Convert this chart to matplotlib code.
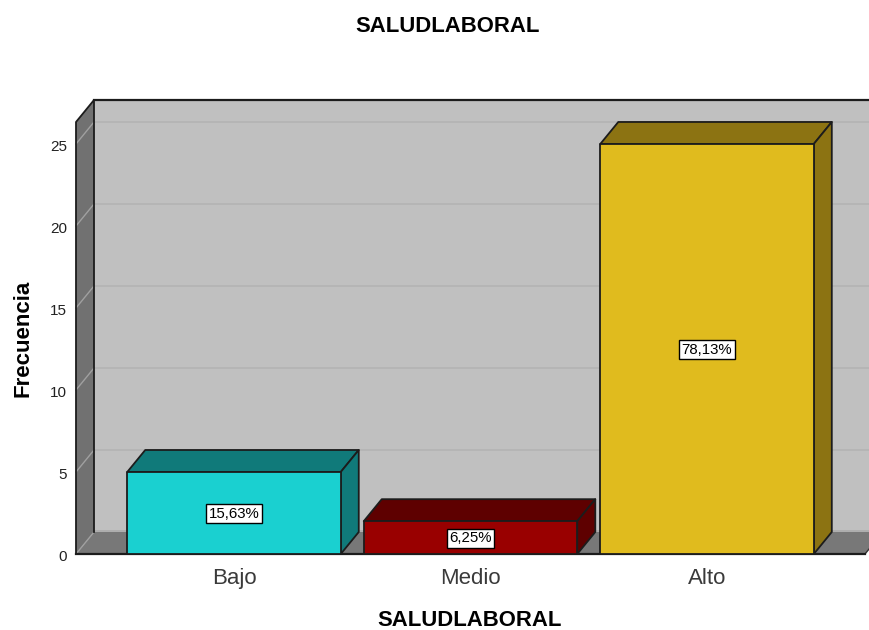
import matplotlib
matplotlib.use('Agg')
import matplotlib.pyplot as plt
from matplotlib.transforms import ScaledTranslation

categories = ['Bajo', 'Medio', 'Alto']
frecuencia = [5, 2, 25]
porcentajes = ['15,63%', '6,25%', '78,13%']
colores = ['#1ad0d0', '#990000', '#e0bb1e']
colores_osc = ['#107a7a', '#5e0000', '#8c7312']
yticks = [0, 5, 10, 15, 20, 25]

plt.rcParams['font.family'] = ['Liberation Sans', 'DejaVu Sans']

W, H = 870, 630
fig = plt.figure(figsize=(W / 100, H / 100), dpi=100)
# axes box = front plane of the 3D chart, in pixels
ax = fig.add_axes([76 / W, 1 - 554 / H, (W - 76) / W, (554 - 122) / H])
x_min, x_max = -0.668, 2.689
y_max = 26.34
ax.set_xlim(x_min, x_max)
ax.set_ylim(0, y_max)
for s in ax.spines.values():
    s.set_visible(False)
ax.patch.set_visible(False)

# depth of the 3D effect in data units
dx = 18 / 236.5
dy = 22 / 16.4
bar_w = 213.5 / 236.5
linea = '#1c1c1c'
right = x_max - 5 / 236.5  # front floor edge stops just before the border
far = right + dx
back = x_min + dx


def poly(xs, ys, fc, z=2, lw=1.3, ec=linea):
    ax.fill(xs, ys, facecolor=fc, edgecolor=ec, linewidth=lw, zorder=z,
            clip_on=False, joinstyle='round')


# back wall with the darker strip at its foot
ax.fill([back, far, far, back], [dy, dy, y_max + dy, y_max + dy], color='#c0c0c0',
        zorder=1, clip_on=False, linewidth=0)
ax.fill([back, far, far, back], [dy, dy, dy + 0.14, dy + 0.14], color='#aeaeae',
        zorder=1.1, clip_on=False, linewidth=0)
# side wall and floor, no outline on the floor's back edge
ax.fill([x_min, back, back, x_min], [0, dy, y_max + dy, y_max], color='#717171',
        zorder=1.2, clip_on=False, linewidth=0)
ax.fill([x_min, right, far, back], [0, 0, dy, dy], color='#787878',
        zorder=1.2, clip_on=False, linewidth=0)

# gridlines on both walls
for t in yticks:
    if t > 0:
        ax.plot([back, far], [t + dy, t + dy], color='#b2b2b2', lw=1.1, zorder=1.1, clip_on=False)
    ax.plot([x_min, back], [t, t + dy], color='#a0a0a0', lw=1.0, zorder=1.25, clip_on=False)

# wall outlines
ax.plot([x_min, x_min, back, back], [0, y_max, y_max + dy, dy], color=linea, lw=1.3, zorder=1.3, clip_on=False)
ax.plot([back, far], [y_max + dy, y_max + dy], color=linea, lw=1.6, zorder=1.3, clip_on=False)
ax.plot([right, far], [0, dy], color='#333333', lw=1.0, zorder=1.3, clip_on=False)

# bars
for i, v in enumerate(frecuencia):
    l = i - bar_w / 2
    r = i + bar_w / 2
    poly([l, r, r + dx, l + dx], [v, v, v + dy, v + dy], colores_osc[i], z=3)
    poly([r, r + dx, r + dx, r], [0, dy, v + dy, v], colores_osc[i], z=3)
    poly([l, r, r, l], [0, 0, v, v], colores[i], z=4)
    ax.text(i, v / 2 - 0.05, porcentajes[i], ha='center', va='center', fontsize=10.8, color='black', zorder=5,
            bbox=dict(boxstyle='square,pad=0.17', facecolor='white', edgecolor='black', linewidth=1))

ax.plot([x_min, right], [0, 0], color=linea, lw=1.6, zorder=3.5, clip_on=False)

ax.set_yticks(yticks)
ax.set_yticklabels([str(t) for t in yticks], fontsize=11, color='#222222')
ax.set_xticks(range(len(categories)))
ax.set_xticklabels(categories, fontsize=16, color='#3a3a3a')
ax.tick_params(axis='y', length=0, pad=6.5)
ax.tick_params(axis='x', length=0, pad=10)
# y labels sit a touch below their gridline in the original
down = ScaledTranslation(0, -1.5 / 100, fig.dpi_scale_trans)
for lab in ax.get_yticklabels():
    lab.set_transform(lab.get_transform() + down)

fig.text(447.5 / W, 1 - 27 / H, 'SALUDLABORAL', ha='center', va='center', fontsize=15.9, fontweight='bold')
fig.text(470 / W, 1 - 621 / H, 'SALUDLABORAL', ha='center', va='center', fontsize=15.9, fontweight='bold')
fig.text(23.5 / W, 1 - 338.5 / H, 'Frecuencia', ha='center', va='center', rotation=90, fontsize=16, fontweight='bold')

fig.savefig('out.png', dpi=100)
